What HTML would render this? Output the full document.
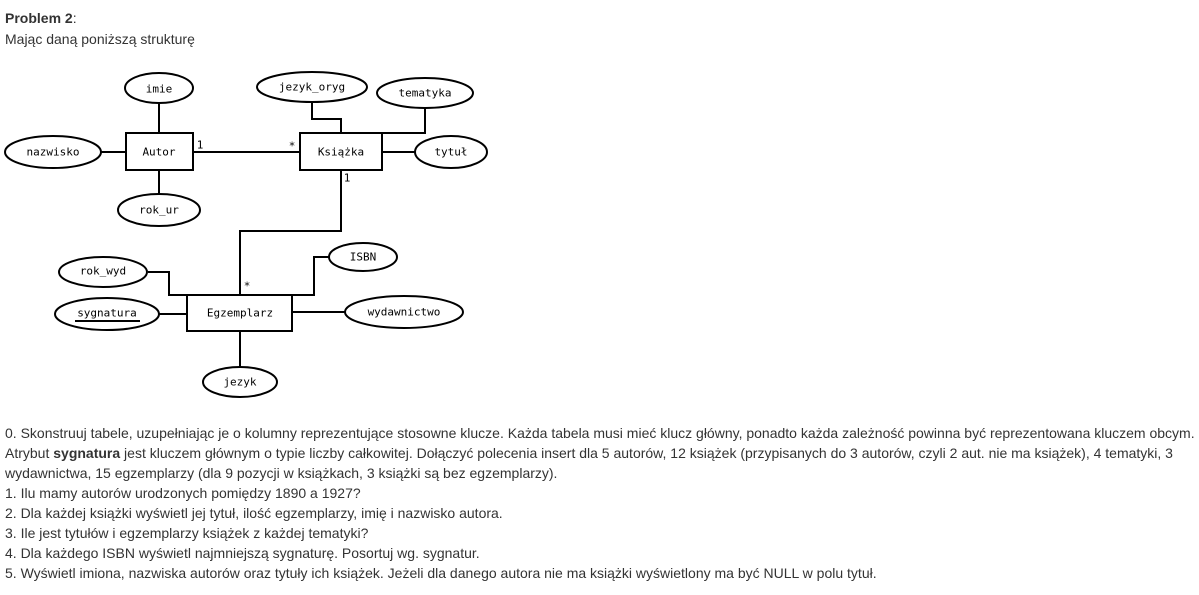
<!DOCTYPE html>
<html><head><meta charset="utf-8"><style>
body{margin:0;background:#fff;width:1199px;height:595px;position:relative;overflow:hidden;font-family:"Liberation Sans",Arial,sans-serif;font-size:14px;color:#333}
.t{position:absolute;left:5px;white-space:nowrap;line-height:20px}
svg text{font-family:"DejaVu Sans Mono",monospace;font-size:11px;fill:#000}
</style></head><body>
<div class="t" style="top:8px"><b>Problem 2</b>:</div>
<div class="t" style="top:29px">Mając daną poniższą strukturę</div>
<svg style="position:absolute;left:0;top:0" width="520" height="410" xmlns="http://www.w3.org/2000/svg">
<g fill="none" stroke="#000" stroke-width="2">
<ellipse cx="159" cy="88" rx="34" ry="15"/>
<ellipse cx="312" cy="87" rx="55" ry="15"/>
<ellipse cx="425" cy="93" rx="48" ry="15"/>
<ellipse cx="53" cy="152" rx="48" ry="16"/>
<ellipse cx="451" cy="152" rx="36" ry="16"/>
<ellipse cx="159" cy="210" rx="41" ry="16"/>
<ellipse cx="103" cy="272" rx="44" ry="15"/>
<ellipse cx="363" cy="257" rx="34" ry="14"/>
<ellipse cx="107" cy="314" rx="52" ry="16"/>
<ellipse cx="404" cy="312" rx="59" ry="16"/>
<ellipse cx="240" cy="382" rx="37" ry="15"/>
<rect x="126" y="133" width="67" height="37"/>
<rect x="300" y="133" width="82" height="37"/>
<rect x="187" y="295" width="105" height="36"/>
<path d="M159 104V133M101 152H126M159 170V194M193 152H300M312 103V119H341V133M425 108V133H382M382 152H415M341 170V231H240V295M148 272H169V295H187M329 257H314V295H292M159 314H187M292 312H345M240 331V367"/>
<line x1="75" y1="321" x2="140" y2="321"/>
</g>
<g text-anchor="middle" dominant-baseline="central">
<text x="159" y="89">imie</text>
<text x="312" y="87">jezyk_oryg</text>
<text x="425" y="93">tematyka</text>
<text x="53" y="152">nazwisko</text>
<text x="159" y="152">Autor</text>
<text x="341" y="152">Książka</text>
<text x="451" y="152">tytuł</text>
<text x="159" y="210">rok_ur</text>
<text x="103" y="271">rok_wyd</text>
<text x="363" y="257">ISBN</text>
<text x="107" y="313">sygnatura</text>
<text x="240" y="313">Egzemplarz</text>
<text x="404" y="312">wydawnictwo</text>
<text x="240" y="382">jezyk</text>
<text x="200" y="145">1</text>
<text x="292" y="146">*</text>
<text x="347" y="178">1</text>
<text x="247" y="286">*</text>
</g>
</svg>
<div class="t" style="top:423px">0. Skonstruuj tabele, uzupełniając je o kolumny reprezentujące stosowne klucze. Każda tabela musi mieć klucz główny, ponadto każda zależność powinna być reprezentowana kluczem obcym.<br>
Atrybut <b>sygnatura</b> jest kluczem głównym o typie liczby całkowitej. Dołączyć polecenia insert dla 5 autorów, 12 książek (przypisanych do 3 autorów, czyli 2 aut. nie ma książek), 4 tematyki, 3<br>
wydawnictwa, 15 egzemplarzy (dla 9 pozycji w książkach, 3 książki są bez egzemplarzy).<br>
1. Ilu mamy autorów urodzonych pomiędzy 1890 a 1927?<br>
2. Dla każdej książki wyświetl jej tytuł, ilość egzemplarzy, imię i nazwisko autora.<br>
3. Ile jest tytułów i egzemplarzy książek z każdej tematyki?<br>
4. Dla każdego ISBN wyświetl najmniejszą sygnaturę. Posortuj wg. sygnatur.<br>
5. Wyświetl imiona, nazwiska autorów oraz tytuły ich książek. Jeżeli dla danego autora nie ma książki wyświetlony ma być NULL w polu tytuł.</div>
</body></html>
